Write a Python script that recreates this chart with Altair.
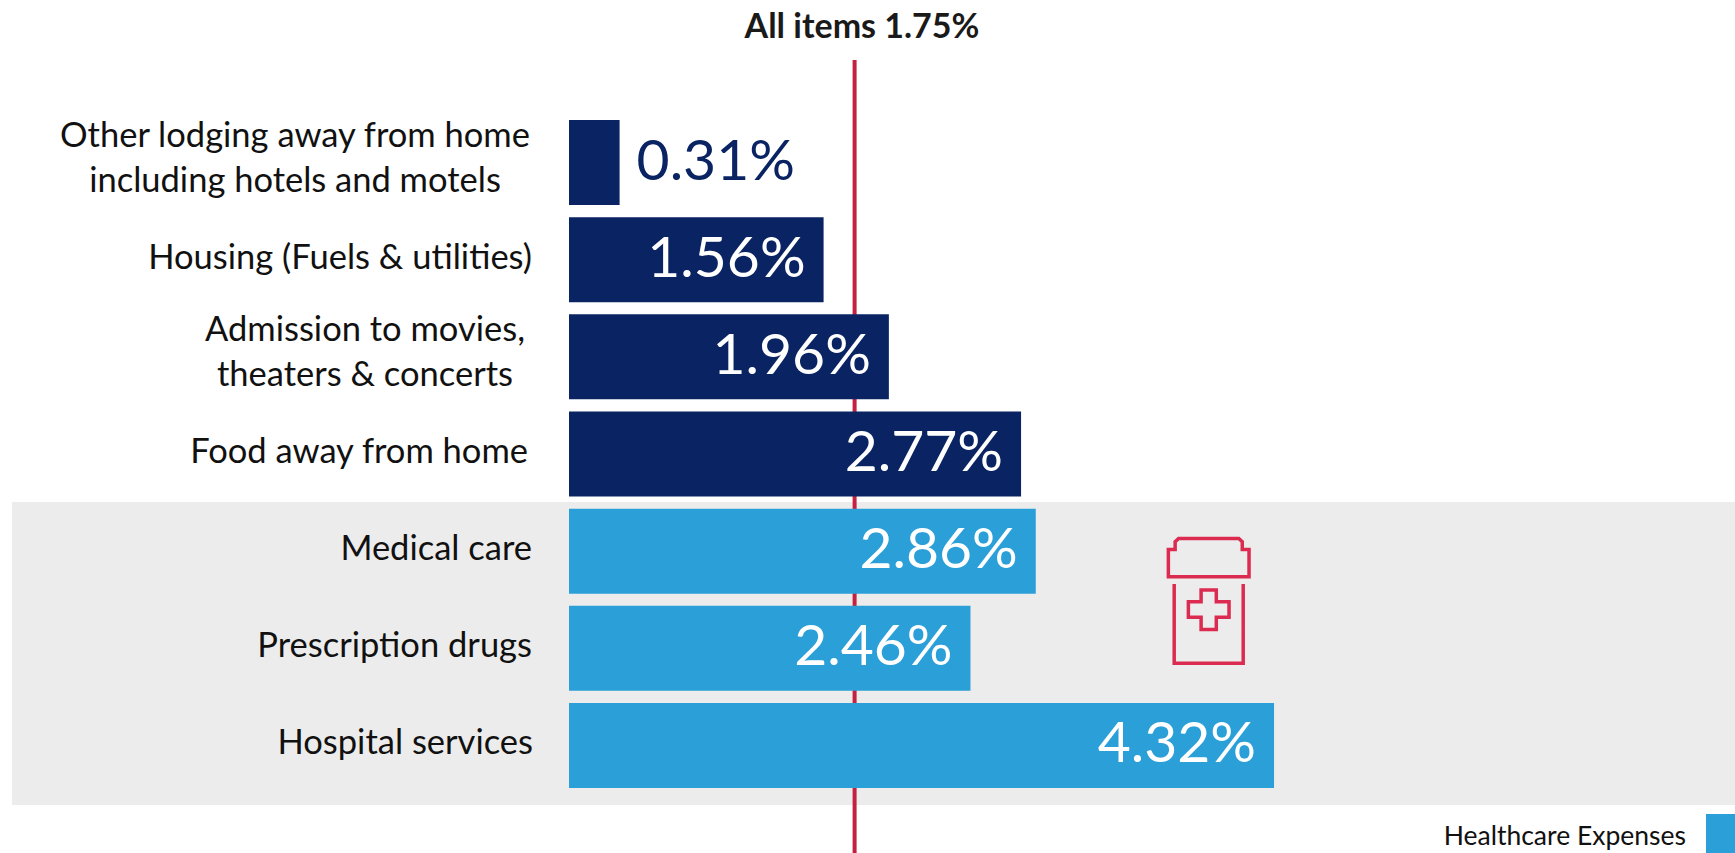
import altair as alt
import pandas as pd

# Chart values
categories = [
    "Other lodging away from home including hotels and motels",
    "Housing (Fuels & utilities)",
    "Admission to movies, theaters & concerts",
    "Food away from home",
    "Medical care",
    "Prescription drugs",
    "Hospital services",
]
label_lines = [
    ["Other lodging away from home", "including hotels and motels"],
    ["Housing (Fuels & utilities)"],
    ["Admission to movies,", "theaters & concerts"],
    ["Food away from home"],
    ["Medical care"],
    ["Prescription drugs"],
    ["Hospital services"],
]
values = [0.31, 1.56, 1.96, 2.77, 2.86, 2.46, 4.32]
groups = ["Other", "Other", "Other", "Other", "Healthcare", "Healthcare", "Healthcare"]
all_items = 1.75

NAVY = "#0A2463"
BLUE = "#2A9FD8"
RED = "#C3213F"
BAND = "#ECECEC"
FONT = "Lato"

df = pd.DataFrame({
    "category": categories,
    "value": values,
    "group": groups,
    "text": [f"{v:.2f}%" for v in values],
})

x_scale = alt.Scale(domain=[0, 5], range=[569, 1385], nice=False, zero=True)
y_scale = alt.Scale(domain=categories, range=[114, 794], paddingInner=0.125, paddingOuter=0.0625)
x_enc = alt.X("value:Q", scale=x_scale, axis=None)
y_enc = alt.Y("category:N", scale=y_scale, axis=None, sort=categories)

# Shaded strip behind the healthcare rows
strip = alt.Chart(pd.DataFrame({"k": [0]})).mark_rect(color=BAND).encode(
    x=alt.value(12), x2=alt.value(1735), y=alt.value(502), y2=alt.value(805)
)

# Reference line for the all-items rate, drawn behind the bars
rule = alt.Chart(pd.DataFrame({"value": [all_items]})).mark_rule(color=RED, strokeWidth=4).encode(
    x=x_enc, y=alt.value(60), y2=alt.value(853)
)
rule_title = alt.Chart(pd.DataFrame({"text": [f"All items {all_items}%"]})).mark_text(
    font=FONT, fontSize=34, fontWeight="bold", color="#1a1a1a", align="center", baseline="middle"
).encode(x=alt.value(862), y=alt.value(28), text="text:N")

bars = alt.Chart(df).mark_bar(size=85).encode(
    x=x_enc,
    x2=alt.datum(0),
    y=y_enc,
    color=alt.Color("group:N", scale=alt.Scale(domain=["Other", "Healthcare"], range=[NAVY, BLUE]), legend=None),
)

inside = alt.Chart(df).transform_filter("datum.value >= 1").mark_text(
    font=FONT, fontSize=57, color="white", align="right", baseline="middle", dx=-18, dy=0
).encode(x=x_enc, y=y_enc, text="text:N")
outside = alt.Chart(df).transform_filter("datum.value < 1").mark_text(
    font=FONT, fontSize=57, color=NAVY, align="left", baseline="middle", dx=17, dy=0
).encode(x=x_enc, y=y_enc, text="text:N")

# Row labels: horizontal anchor per row, centred for the wrapped ones
anchors = [(295, "center"), (532, "right"), (365, "center"), (528, "right"),
           (532, "right"), (532, "right"), (533, "right")]
label_layers = []
for name, lines, (ax, al) in zip(categories, label_lines, anchors):
    row = pd.DataFrame({"category": [name], "lines": [lines]})
    label_layers.append(
        alt.Chart(row).mark_text(
            font=FONT, fontSize=34.5, color="#111111", align=al, baseline="middle", lineHeight=45,
            dy=-26 if len(lines) > 1 else -1,
        ).encode(x=alt.value(ax), y=y_enc, text="lines:N")
    )

# Pill-bottle icon as a unit-square stroked symbol
BOTTLE = (
    "M-.637 -.81L-.637 -.379L.637 -.379L.637 -.81L.53 -.81L.53 -.93L.475 -.984"
    "L-.475 -.984L-.53 -.93L-.53 -.81Z"
    "M-.545 -.263L-.545 .989L.545 .989L.545 -.263"
    "M-.12 -.168L.12 -.168L.12 .016L.321 .016L.321 .263L.12 .263L.12 .453"
    "L-.12 .453L-.12 .263L-.321 .263L-.321 .016L-.12 .016Z"
)
icon = alt.Chart(pd.DataFrame({"k": [0]})).mark_point(
    shape=BOTTLE, filled=False, stroke="#DB2B50", strokeWidth=3.5, size=16040, opacity=1
).encode(x=alt.value(1208.7), y=alt.value(600.7))

# Key for the healthcare colour
key_box = alt.Chart(pd.DataFrame({"k": [0]})).mark_rect(color=BLUE).encode(
    x=alt.value(1706), x2=alt.value(1735), y=alt.value(814), y2=alt.value(853)
)
key_text = alt.Chart(pd.DataFrame({"text": ["Healthcare Expenses"]})).mark_text(
    font=FONT, fontSize=26.5, color="#111111", align="right", baseline="middle"
).encode(x=alt.value(1686), y=alt.value(837), text="text:N")

chart = alt.layer(
    strip, rule, rule_title, bars, inside, outside, *label_layers, icon, key_box, key_text
).properties(
    width=1735, height=853, padding=0, background="white",
    autosize=alt.AutoSizeParams(type="none"),
).configure_view(stroke=None)

chart.save("out.html", embed_options={"renderer": "svg", "actions": False})
